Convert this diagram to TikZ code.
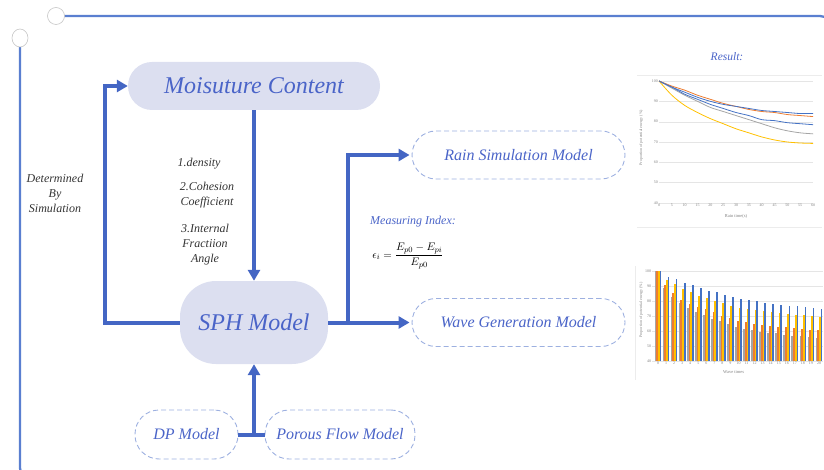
\documentclass[tikz,border=0pt]{standalone}
\usepackage{fontspec}
\setmainfont{Liberation Serif}
\usetikzlibrary{arrows.meta,shapes.geometric}
\definecolor{cblue}{HTML}{4466C4}
\definecolor{tblue}{HTML}{4A64C8}
\definecolor{pfill}{HTML}{DCDFF0}
\definecolor{dblue}{HTML}{9DB0E0}
\definecolor{framec}{HTML}{5A7FD0}
\definecolor{xblue}{HTML}{4472C4}
\definecolor{xorange}{HTML}{ED7D31}
\definecolor{xgray}{HTML}{A5A5A5}
\definecolor{xyellow}{HTML}{FFC000}
\begin{document}
\begin{tikzpicture}[x=1pt,y=-1pt,
  solidpill/.style={fill=pfill, draw=none, text=tblue, inner sep=0pt, rounded corners=24pt,
    font=\fontsize{24}{28}\selectfont\itshape},
  dashpill/.style={draw=dblue, dash pattern=on 5pt off 3pt, line width=0.9pt, text=tblue,
    minimum width=213pt, minimum height=48pt, rounded corners=24pt, inner sep=0pt,
    font=\fontsize{16}{19}\selectfont\itshape},
  conn/.style={draw=cblue, line width=4pt},
  arr/.style={conn, -{Triangle[length=11pt,width=12pt]}},
  note/.style={font=\fontsize{12}{15}\selectfont\itshape, text=black!80, align=center},
  bluenote/.style={font=\fontsize{12}{15}\selectfont\itshape, text=tblue},
  tick/.style={font=\fontsize{4}{4}\selectfont, text=gray, inner sep=1pt},
  ringc/.style={draw=gray!45, fill=white, line width=0.6pt},
  framel/.style={draw=framec, line width=2.3pt}
]
\useasboundingbox (0,0) rectangle (824,470);
\clip (0,0) rectangle (824,470);

% frame
\draw[framel, rounded corners=12pt] (64,16) -- (832,16) -- (832,60);
\draw[framel, rounded corners=10pt] (20,47) -- (20,478) -- (60,478);
\node[ringc, circle, minimum size=17pt, inner sep=0pt] (r1) at (56,16) {};
\node[ringc, ellipse, minimum width=16pt, minimum height=18pt, inner sep=0pt] (r2) at (20,38) {};

% main nodes
\node[solidpill, minimum width=252pt, minimum height=48pt] (mc) at (254,86) {Moisuture Content};
\node[solidpill, minimum width=148pt, minimum height=83pt, rounded corners=36pt] (sph) at (254,322.5) {SPH Model};
\node[dashpill] (rain) at (518.5,155) {Rain Simulation Model};
\node[dashpill] (wave) at (518.5,322.5) {Wave Generation Model};
\node[dashpill, minimum width=103pt, minimum height=49pt] (dp) at (186.5,434.5) {DP Model};
\node[dashpill, minimum width=150pt, minimum height=49pt] (pf) at (340,434.5) {Porous Flow Model};

% connectors
\coordinate (L) at (105,0);
\coordinate (B) at (348,0);
\coordinate (J) at (254,0);
\draw[arr] (mc.south) -- (sph.north);
\draw[arr, line join=miter] (sph.west) -- (sph.west -| L) -- (mc.west -| L) -- (mc.west);
\draw[arr, shorten >=2pt] (sph.east) -- (wave.west);
\draw[arr, shorten >=2pt, line join=miter] (sph.east -| B) -- (rain.west -| B) -- (rain.west);
\draw[conn] (dp.east) -- (pf.west);
\draw[arr] (dp.east -| J) -- (sph.south);

% labels
\node[note] (det) at (55,193) {Determined\\By\\Simulation};
\node[note] (p1) at (199,164) {1.density};
\node[note] (p2) at (207,195) {2.Cohesion\\Coefficient};
\node[note] (p3) at (205,245) {3.Internal\\Fractiion\\Angle};
\node[bluenote] (mi) at (413,222) {Measuring Index:};
\node[font=\fontsize{11}{13}\selectfont] (fm) at (408,256) {$\displaystyle \epsilon_i = \frac{E_{p0}-E_{pi}}{E_{p0}}$};
\node[bluenote, font=\fontsize{11.5}{14}\selectfont\itshape] (res) at (727,57) {Result:};

% line chart
\draw[gray!15, line width=0.5pt] (637,75) -- (822,75);
\draw[gray!15, line width=0.5pt] (637,227) -- (822,227);
\begin{scope}[shift={(659,284.3)}, x=2.567pt, y=2.033pt]
  \foreach \v in {40,50,...,100} {
    \draw[gray!20, line width=0.3pt] (0,\v) -- (60,\v);
    \node[tick, left] at (0,\v) {\v};
  }
  \foreach \t in {0,5,...,60} { \node[tick, below] at (\t,40) {\t}; }
  \node[tick, font=\fontsize{4.5}{5}\selectfont] at (30,33.5) {Rain time(s)};
  \node[tick, rotate=90] at (-7,72) {Proportion of potential energy (\%)};
  \draw[xgray, line width=0.8pt] plot[smooth] coordinates {(0,100)(5,96.5)(10,93)(15,90)(20,87)(25,85)(30,83)(35,81)(40,79)(45,77)(50,75.5)(55,74.5)(60,74)};
  \draw[xyellow, line width=0.8pt] plot[smooth] coordinates {(0,100)(5,93)(10,88)(15,84.5)(20,81.5)(25,79)(30,76.5)(35,74.5)(40,72.5)(45,71)(50,70)(55,69.5)(60,69.3)};
  \draw[xblue, line width=0.8pt] plot[smooth] coordinates {(0,100)(5,97)(10,93.5)(15,91)(20,88.5)(25,86.5)(30,84.5)(35,83)(40,81)(45,80.5)(50,79.5)(55,79)(60,78.5)};
  \draw[xorange, line width=0.8pt] plot[smooth] coordinates {(0,100)(5,97.5)(10,95.5)(15,93)(20,91)(25,89)(30,87.5)(35,86)(40,85)(45,84.5)(50,83.5)(55,83)(60,82.5)};
  \draw[xblue, line width=0.8pt] plot[smooth] coordinates {(0,100)(5,97)(10,94.5)(15,92)(20,90)(25,88.5)(30,87.5)(35,86.5)(40,85.5)(45,85)(50,84.5)(55,84)(60,84)};
\end{scope}

% bar chart
\draw[gray!15, line width=0.5pt] (635,266) -- (635,380);
\begin{scope}[shift={(658,421)}, x=8.05pt, y=1.5pt]
  \foreach \v in {40,50,...,100} {
    \draw[gray!20, line width=0.3pt] (-0.7,\v) -- (20.5,\v);
    \node[tick, left] at (-0.7,\v) {\v};
  }
  \foreach \t in {0,...,20} { \node[tick, below] at (\t,40) {\t}; }
  \node[tick, font=\fontsize{4.5}{5}\selectfont] at (9.4,32.7) {Wave times};
  \node[tick, rotate=90] at (-2.1,74) {Proportion of potential energy (\%)};
  \foreach \g [count=\i from 0] in {100,89,83,78.5,75.5,72.5,70.5,68,66.5,64.5,62.5,61.5,60.5,59.5,59,58.5,57.5,57,56.5,56,55.5}
    { \fill[xgray] (\i-0.42,40) rectangle (\i-0.21,\g); }
  \foreach \g [count=\i from 0] in {100,90.5,85.5,81,78,76,74.5,72.5,70,68.5,67,66,65,64,63.5,63,62.5,62,61.5,61,60.5}
    { \fill[xorange] (\i-0.21,40) rectangle (\i,\g); }
  \foreach \g [count=\i from 0] in {100,94,91.5,88,86,83.5,82,80,78.5,77,75.5,74.5,74,73.5,73,72,71.5,71,70.5,70,69.5}
    { \fill[xyellow] (\i,40) rectangle (\i+0.21,\g); }
  \foreach \g [count=\i from 0] in {100,96,94.5,92,91,88.5,87,86,84,83,81.5,80.5,80,79,78,77.5,77,76.5,76,75.5,75}
    { \fill[xblue] (\i+0.21,40) rectangle (\i+0.42,\g); }
\end{scope}
\end{tikzpicture}
\end{document}
